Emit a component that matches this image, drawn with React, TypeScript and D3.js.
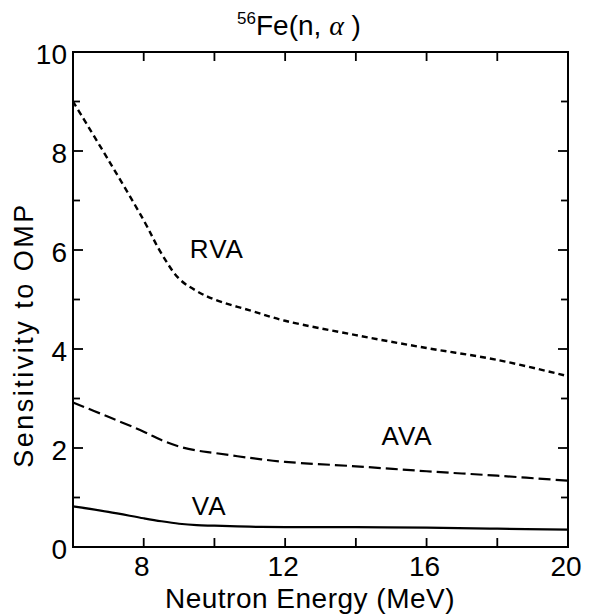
import React from "react";
import * as d3 from "d3";

const energies = [6, 7, 8, 8.5, 9, 9.5, 10, 11, 12, 14, 16, 18, 20];
const rvaValues = [9.0, 7.82, 6.6, 5.93, 5.42, 5.17, 5.0, 4.78, 4.57, 4.28, 4.02, 3.78, 3.45];
const avaValues = [2.92, 2.63, 2.33, 2.16, 2.03, 1.95, 1.9, 1.8, 1.72, 1.63, 1.53, 1.44, 1.34];
const vaValues = [0.82, 0.71, 0.58, 0.52, 0.47, 0.44, 0.43, 0.41, 0.4, 0.4, 0.39, 0.37, 0.35];
const xTickLabels = [8, 12, 16, 20];
const xTicks = [8, 10, 12, 14, 16, 18];
const yTickLabels = [0, 2, 4, 6, 8, 10];
const yTicks = [1, 2, 3, 4, 5, 6, 7, 8, 9];

const seriesList = [
  { name: "RVA", values: rvaValues, dash: "6,4", width: 2.4, lx: 10.07, ly: 5.84 },
  { name: "AVA", values: avaValues, dash: "12,5", width: 2.2, lx: 15.45, ly: 2.06 },
  { name: "VA", values: vaValues, dash: "", width: 2.2, lx: 9.85, ly: 0.65 },
];

const FONT = "'Liberation Sans', Arial, Helvetica, sans-serif";

export default function App() {
  const W = 592, H = 615;
  const left = 73, right = 568, top = 52, bottom = 547;
  const x = d3.scaleLinear().domain([6, 20]).range([left, right]);
  const y = d3.scaleLinear().domain([0, 10]).range([bottom, top]);
  const line = d3
    .line<number>()
    .x((_, i) => x(energies[i]))
    .y((d) => y(d))
    .curve(d3.curveCatmullRom.alpha(0.5));

  return (
    <svg width={W} height={H} style={{ position: "absolute", left: 0, top: 0, background: "#fff" }}>
      <rect x={0} y={0} width={W} height={H} fill="#fff" />
      {/* title */}
      <text x={299} y={35} textAnchor="middle" fontFamily={FONT} fontSize={28} fill="#000">
        <tspan fontSize={17} dy={-11}>56</tspan>
        <tspan dy={11}>Fe(n, </tspan>
        <tspan fontStyle="italic" fontFamily="'Liberation Serif', serif">α</tspan>
        <tspan> )</tspan>
      </text>
      {/* frame */}
      <rect x={left} y={top} width={right - left} height={bottom - top} fill="none" stroke="#000" strokeWidth={2} />
      {/* x ticks */}
      {xTicks.map((t) => (
        <g key={"xt" + t}>
          <line x1={x(t)} x2={x(t)} y1={bottom} y2={bottom - 9} stroke="#000" strokeWidth={1.8} />
          <line x1={x(t)} x2={x(t)} y1={top} y2={top + 9} stroke="#000" strokeWidth={1.8} />
        </g>
      ))}
      {/* y ticks */}
      {yTicks.map((t) => {
        const len = t % 2 === 0 ? 10 : 7;
        return (
          <g key={"yt" + t}>
            <line x1={left} x2={left + len} y1={y(t)} y2={y(t)} stroke="#000" strokeWidth={1.8} />
            <line x1={right} x2={right - len} y1={y(t)} y2={y(t)} stroke="#000" strokeWidth={1.8} />
          </g>
        );
      })}
      {xTickLabels.map((t) => (
        <text key={"xl" + t} x={x(t) - 2} y={576} textAnchor="middle" fontFamily={FONT} fontSize={28} fill="#000">
          {t}
        </text>
      ))}
      {yTickLabels.map((t) => (
        <text key={"yl" + t} x={67} y={y(t) + 12} textAnchor="end" fontFamily={FONT} fontSize={28} fill="#000">
          {t}
        </text>
      ))}
      {/* axis titles */}
      <text x={310} y={608} textAnchor="middle" fontFamily={FONT} fontSize={28} letterSpacing={0.5} fill="#000">
        Neutron Energy (MeV)
      </text>
      <text
        transform="translate(33,335) rotate(-90)"
        textAnchor="middle"
        fontFamily={FONT}
        fontSize={27}
        letterSpacing={2.5}
        fill="#000"
      >
        Sensitivity to OMP
      </text>
      {/* curves */}
      {seriesList.map((s) => (
        <path
          key={s.name}
          d={line(s.values) || ""}
          fill="none"
          stroke="#000"
          strokeWidth={s.width}
          strokeDasharray={s.dash || undefined}
        />
      ))}
      {seriesList.map((s) => (
        <text
          key={"lab" + s.name}
          x={x(s.lx)}
          y={y(s.ly)}
          textAnchor="middle"
          fontFamily={FONT}
          fontSize={26}
          letterSpacing={1}
          fill="#000"
        >
          {s.name}
        </text>
      ))}
    </svg>
  );
}
